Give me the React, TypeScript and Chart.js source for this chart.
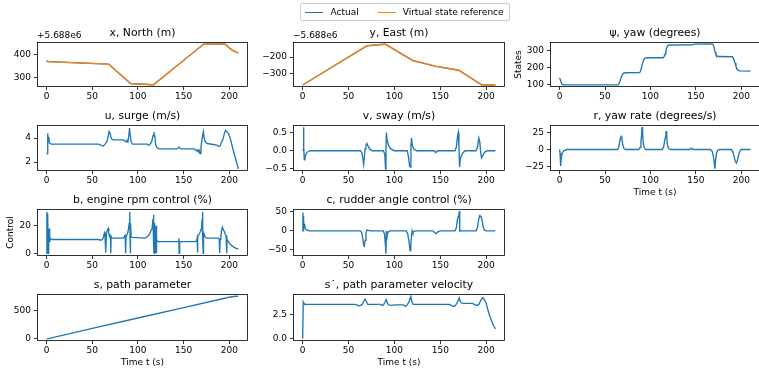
import React, { useEffect, useRef } from "react";
import { Chart, registerables } from "chart.js";

Chart.register(...registerables);

const FONT = "'DejaVu Sans', 'Liberation Sans', sans-serif";
const BLUE = "#1f77b4";
const ORANGE = "#ff7f0e";
const MINUS = "\u2212";

const SERIES_NAMES = ["Actual", "Virtual state reference"];

// shared time axis ticks
const X_TICKS = [0, 50, 100, 150, 200];

// x, North (m), relative to +5.688e6
const NORTH_OFFSET_LABEL = "+5.688e6";
const northT = [0, 2, 68, 92, 117, 172, 195, 198, 201, 204, 207, 210];
const northActual = [373, 369, 358, 273, 268, 446, 447, 437, 426, 418, 412, 407];
const northRefT = [0, 68, 92, 117, 172, 195, 198, 201, 204, 207, 210];
const northRef = [369, 358, 273, 268, 446, 447, 437, 426, 418, 412, 407];
const NORTH_TICKS = [300, 400];

// y, East (m), relative to -5.688e6
const EAST_OFFSET_LABEL = MINUS + "5.688e6";
const eastT = [0, 70, 90, 120, 145, 170, 195, 210];
const eastActual = [-370, -131, -121, -221, -256, -280, -369, -370];
const eastRef = [-370, -130, -120, -220, -255, -280, -370, -370];
const EAST_TICKS = [-300, -200];

// psi, yaw (degrees)
const yawT = [0, 1, 2, 3, 5, 64, 65, 66, 67, 68, 69, 70, 71, 73, 88, 89, 90, 91, 92, 93, 94, 96, 114, 115, 116, 117, 118, 119, 120, 122, 146, 148, 168, 169, 170, 171, 172, 173, 175, 190, 191, 192, 193, 194, 195, 196, 198, 210];
const yawDeg = [140, 128, 110, 100, 99, 99, 102, 112, 128, 145, 158, 166, 169, 170, 171, 178, 195, 220, 240, 252, 257, 259, 259, 266, 280, 302, 320, 330, 333, 334, 335, 339, 340, 335, 320, 295, 278, 270, 266, 265, 258, 245, 228, 210, 195, 186, 181, 180];
const YAW_TICKS = [100, 200, 300];

// u, surge (m/s)
const surgeT = [0, 0.5, 1, 1.5, 2, 2.5, 3, 4, 5, 57, 60, 62, 64, 66, 67.5, 68.5, 69.5, 71, 73, 84, 86, 87, 88, 89, 90, 90.8, 91.5, 92.5, 94, 110, 112, 113, 115, 116.5, 117.5, 118.5, 119.5, 121, 123, 143, 145, 147, 162, 164, 165, 166, 167, 168, 169, 170, 171, 171.7, 172.5, 174, 176, 184, 187, 189, 190, 191, 193, 195, 196, 197, 199, 201, 203, 205, 207, 209, 210];
const surge = [2.75, 2.7, 4.4, 4.3, 3.9, 4.1, 3.6, 3.55, 3.5, 3.5, 3.4, 3.35, 3.5, 3.7, 4.2, 4.55, 4.4, 3.95, 3.85, 3.85, 3.75, 3.7, 3.8, 3.7, 4.2, 4.85, 4.3, 3.7, 3.5, 3.5, 3.4, 3.45, 3.7, 4.2, 4.5, 4.1, 3.45, 3.2, 3.1, 3.1, 3.25, 3.1, 3.1, 2.95, 3.0, 2.85, 3.0, 2.7, 3.2, 3.8, 4.3, 4.55, 4.0, 3.65, 3.55, 3.45, 3.4, 3.3, 3.35, 3.6, 3.9, 4.5, 4.65, 4.55, 4.4, 4.0, 3.4, 2.8, 2.25, 1.7, 1.42];
const SURGE_TICKS = [2, 4];

// v, sway (m/s)
const swayT = [0, 0.5, 1, 1.3, 1.8, 2.5, 3.5, 5, 8, 63, 64.5, 65.5, 66.5, 67.2, 68, 69, 70, 71.5, 73, 76, 88, 89.5, 90.3, 90.8, 91.3, 92, 93.5, 96, 100, 114, 115.5, 116.5, 117.3, 118, 118.6, 119.5, 121, 124, 143, 145, 147, 166, 167.5, 168.8, 169.6, 170.3, 171, 172, 174, 177, 189, 190.5, 192, 193, 194, 195, 196.5, 198, 201, 210];
const sway = [0, 0.02, 0.65, 0.1, -0.25, -0.2, -0.1, -0.04, 0, 0, -0.05, -0.2, -0.38, -0.2, 0.05, 0.15, 0.2, 0.12, 0.05, 0, 0, -0.1, -0.5, 0.05, 0.5, 0.3, 0.15, 0.05, 0, 0, -0.2, -0.42, -0.45, 0.1, 0.35, 0.15, 0.05, 0, 0, -0.05, 0, 0, 0.1, 0.4, 0.5, 0.1, -0.45, -0.2, -0.08, 0, 0, 0.1, 0.35, 0.25, -0.05, -0.2, -0.12, -0.05, 0, 0];
const SWAY_TICKS = [-0.5, 0, 0.5];

// r, yaw rate (degrees/s)
const rateT = [0, 0.5, 1, 1.5, 2, 3, 5, 8, 64, 65, 66, 67, 67.8, 68.5, 69.5, 71, 73, 87, 88.5, 89.5, 90.2, 90.8, 91.4, 92.2, 93.5, 95, 113, 114.5, 115.8, 116.8, 117.3, 117.9, 118.8, 120, 122, 143, 145, 147, 166, 168, 169.5, 170.3, 170.9, 171.5, 172.5, 174, 176, 189, 190.5, 192, 193.5, 194.5, 195.5, 197, 198.5, 200, 210];
const rate = [0, -5, -22, -24, -12, -5, -1.5, 0, 0, 3, 10, 17, 19, 16, 7, 1, 0, 0, 3, 12, 20, 33, 22, 8, 2, 0, 0, 4, 14, 20, 27, 18, 6, 1.5, 0, 0, 2, 0, 0, -3, -12, -20, -28, -18, -6, -1, 0, 0, -3, -10, -18, -20, -17, -8, -2, 0, 0];
const RATE_TICKS = [-25, 0, 25];

// b, engine rpm control (%)
const engT = [0, 0.3, 0.6, 0.9, 1.2, 1.5, 1.8, 2.1, 2.5, 2.8, 3.2, 3.6, 4.5, 57, 59, 61, 62, 63, 63.5, 64, 64.5, 65, 65.5, 66.5, 67.5, 68, 69, 70, 70.3, 70.6, 72, 84, 85, 86, 86.5, 87, 88.5, 89.5, 90.5, 91, 91.4, 91.7, 92, 92.5, 94, 108, 110, 112, 114, 115.5, 116.5, 117, 117.4, 117.7, 118, 118.5, 119, 119.4, 119.8, 120.2, 120.6, 121.5, 144.5, 144.8, 145.1, 145.4, 146, 163, 164, 164.8, 165.2, 165.6, 167, 168.5, 169.5, 170.3, 170.7, 171.1, 171.4, 171.8, 172.5, 173.5, 175, 188, 189, 189.5, 190, 190.8, 191.5, 192.5, 193.5, 194.5, 195.5, 196.5, 197.2, 197.6, 199, 201, 203, 205, 207, 210];
const eng = [0, 30, 0, 29, 5, 28, 0, 18, 3, 18, 8, 12, 10, 10, 9.5, 10, 11, 14, 16, 12, 15, 0.5, 14, 17, 18, 15, 12, 13, 0, 12, 11, 11, 12, 13, 0, 12, 14, 17, 22, 30, 10, 0, 22, 12, 11.5, 11, 12, 13, 16, 18, 25, 28, 5, 0, 22, 18, 10, 0, 20, 0, 10, 8.5, 8.5, 11, 0, 9, 8.5, 8.5, 9, 11, 0.5, 12, 14, 16, 18, 25, 30, 12, 0, 15, 14, 12, 11, 11, 10.5, 0, 10, 12, 17, 19, 17, 16, 14, 13, 0, 10, 8.5, 6.5, 5.5, 4.5, 3.8, 3];
const ENG_TICKS = [0, 20];

// c, rudder angle control (%)
const rudT = [0, 0.3, 0.6, 0.9, 1.2, 1.5, 2, 2.5, 3, 4, 6, 8, 63, 64.5, 65.5, 66.5, 67.2, 68, 69, 70, 72, 75, 88, 89.3, 90.3, 90.8, 91.2, 91.6, 92.3, 93.5, 95, 113, 114.5, 116, 117, 117.8, 118.5, 119.2, 120, 121, 123, 142, 144, 145.5, 147, 150, 166, 167.5, 168.7, 169.5, 170.3, 170.8, 171.2, 172, 174, 189, 190.5, 191.8, 193, 194.2, 195.5, 196.8, 198, 200, 210];
const rud = [0, 48, 0, 40, 5, 18, 8, 15, 6, 3, 1, 0, 0, -5, -20, -38, -40, -25, -5, 2, 1, 0, 0, -10, -40, -60, 0, -25, -8, -2, 0, 0, -8, -30, -52, -40, -15, 0, -6, -2, 0, 0, -5, -7, -3, 0, 0, 8, 30, 38, 45, 52, 0, 1, 0, 0, 8, 30, 40, 38, 28, 10, 2, 0, 0];
const RUD_TICKS = [-50, 0, 50];

// s, path parameter
const sT = [0, 2, 50, 100, 150, 195, 200, 205, 210];
const sVal = [0, 4, 186, 370, 553, 720, 738, 751, 757];
const S_TICKS = [0, 500];

// s-dot, path parameter velocity
const sdT = [0, 0.7, 1.5, 2.5, 57, 59, 61, 63, 65, 66.5, 68, 69.5, 71, 85, 86.5, 88, 89.5, 91, 92.5, 94, 97, 100, 110, 112, 114, 116, 117.8, 119, 120.5, 125, 160, 163, 165, 167, 169, 170.7, 172, 174, 185, 188, 190, 192, 194, 196, 198, 200, 202, 204, 206, 208, 210];
const sd = [0, 3.75, 3.6, 3.5, 3.5, 3.45, 3.35, 3.4, 3.5, 3.8, 4.05, 3.8, 3.5, 3.5, 3.4, 3.45, 3.7, 4.0, 3.6, 3.45, 3.4, 3.45, 3.45, 3.3, 3.45, 3.8, 4.3, 3.8, 3.5, 3.5, 3.5, 3.35, 3.3, 3.45, 3.8, 4.15, 3.75, 3.6, 3.6, 3.45, 3.4, 3.5, 3.9, 4.2, 4.0, 3.6, 2.9, 2.3, 1.8, 1.35, 1.0];
const SD_TICKS = [0, 2.5];

// ---------- layout (pixels) ----------
const COLS = [
  { left: 37, right: 248, padL: 37, yTitlePad: 5.4 },
  { left: 293, right: 505, padL: 43, yTitlePad: 3 },
  { left: 550, right: 760, padL: 40, yTitlePad: 2.9 },
];
const ROWS = [
  { top: 42, bottom: 87 },
  { top: 125, bottom: 171 },
  { top: 209, bottom: 256 },
  { top: 294, bottom: 341 },
];
const PAD_T = 22;
const PAD_B = 30;
const PAD_R = 8;

type Series = { t: number[]; y: number[]; color: string; order: number; label: string };
type Spec = {
  title: string; col: number; row: number; series: Series[];
  yTicks: number[]; yMin: number; yMax: number; dec: number;
  offsetText?: string; yTitle?: string; xTitle?: string;
};

const actual = (t: number[], y: number[]): Series => ({ t, y, color: BLUE, order: 1, label: SERIES_NAMES[0] });
const reference = (t: number[], y: number[]): Series => ({ t, y, color: ORANGE, order: 0, label: SERIES_NAMES[1] });

const SUBPLOTS: Spec[] = [
  { title: "x, North (m)", col: 0, row: 0, series: [actual(northT, northActual), reference(northRefT, northRef)], yTicks: NORTH_TICKS, yMin: 258, yMax: 455, dec: 0, offsetText: NORTH_OFFSET_LABEL },
  { title: "y, East (m)", col: 1, row: 0, series: [actual(eastT, eastActual), reference(eastT, eastRef)], yTicks: EAST_TICKS, yMin: -382.5, yMax: -107.5, dec: 0, offsetText: EAST_OFFSET_LABEL },
  { title: "\u03c8, yaw (degrees)", col: 2, row: 0, series: [actual(yawT, yawDeg)], yTicks: YAW_TICKS, yMin: 86, yMax: 352, dec: 0, yTitle: "States" },
  { title: "u, surge (m/s)", col: 0, row: 1, series: [actual(surgeT, surge)], yTicks: SURGE_TICKS, yMin: 1.25, yMax: 5.1, dec: 0 },
  { title: "v, sway (m/s)", col: 1, row: 1, series: [actual(swayT, sway)], yTicks: SWAY_TICKS, yMin: -0.56, yMax: 0.71, dec: 1 },
  { title: "r, yaw rate (degrees/s)", col: 2, row: 1, series: [actual(rateT, rate)], yTicks: RATE_TICKS, yMin: -31.5, yMax: 36, dec: 0, xTitle: "Time t (s)" },
  { title: "b, engine rpm control (%)", col: 0, row: 2, series: [actual(engT, eng)], yTicks: ENG_TICKS, yMin: -2, yMax: 32.2, dec: 0, yTitle: "Control" },
  { title: "c, rudder angle control (%)", col: 1, row: 2, series: [actual(rudT, rud)], yTicks: RUD_TICKS, yMin: -66, yMax: 57.5, dec: 0 },
  { title: "s, path parameter", col: 0, row: 3, series: [actual(sT, sVal)], yTicks: S_TICKS, yMin: -38, yMax: 795, dec: 0, xTitle: "Time t (s)" },
  { title: "s\u02d9, path parameter velocity", col: 1, row: 3, series: [actual(sdT, sd)], yTicks: SD_TICKS, yMin: -0.22, yMax: 4.56, dec: 1, xTitle: "Time t (s)" },
];

function fmt(v: number, dec: number) {
  const s = Math.abs(v).toFixed(dec);
  return v < 0 ? MINUS + s : s;
}

const framePlugin = {
  id: "frame",
  afterDraw(chart: any) {
    const { ctx, chartArea: a } = chart;
    ctx.save();
    ctx.strokeStyle = "#000";
    ctx.lineWidth = 0.8;
    ctx.strokeRect(a.left + 0.5, a.top + 0.5, a.right - a.left - 1, a.bottom - a.top - 1);
    ctx.restore();
  },
};

const offsetTextPlugin = {
  id: "offsetText",
  afterDraw(chart: any, _args: any, opts: any) {
    if (!opts || !opts.text) return;
    const { ctx, chartArea: a } = chart;
    ctx.save();
    ctx.font = `9px ${FONT}`;
    ctx.fillStyle = "#000";
    ctx.textAlign = "left";
    ctx.textBaseline = "alphabetic";
    ctx.fillText(opts.text, a.left, a.top - 4);
    ctx.restore();
  },
};

const tickFont = { family: FONT, size: 9 };

function buildConfig(spec: Spec, padL: number, yTitlePad: number): any {
  return {
    type: "line",
    data: {
      datasets: spec.series.map((s) => ({
        label: s.label,
        data: s.t.map((x, i) => ({ x, y: s.y[i] })),
        borderColor: s.color,
        backgroundColor: s.color,
        borderWidth: 1.35,
        pointRadius: 0,
        tension: 0,
        fill: false,
        order: s.order,
      })),
    },
    options: {
      responsive: false,
      animation: false,
      events: [],
      layout: { padding: { left: 0, right: PAD_R, top: 0, bottom: 0 } },
      plugins: {
        legend: { display: false },
        tooltip: { enabled: false },
        title: {
          display: true,
          text: spec.title,
          fullSize: false,
          color: "#000",
          font: { family: FONT, size: 10.8, weight: "normal", lineHeight: 1.2 },
          padding: { top: PAD_T - 12.96 - 2.72, bottom: 2.72 },
        },
        offsetText: { text: spec.offsetText || "" },
      },
      scales: {
        x: {
          type: "linear",
          min: -10.5,
          max: 220.5,
          afterBuildTicks: (sc: any) => { sc.ticks = X_TICKS.map((v) => ({ value: v })); },
          afterFit: (sc: any) => { sc.height = PAD_B; },
          grid: { display: true, drawOnChartArea: false, drawTicks: true, tickLength: 3, color: "#000", lineWidth: 0.8 },
          border: { display: false },
          ticks: { font: tickFont, color: "#000", padding: 1, maxRotation: 0, autoSkip: false, callback: (v: number) => fmt(v, 0) },
          title: spec.xTitle
            ? { display: true, text: spec.xTitle, color: "#000", font: { family: FONT, size: 9, lineHeight: 1.2 }, padding: { top: 0, bottom: 2.6 } }
            : { display: false },
        },
        y: {
          type: "linear",
          min: spec.yMin,
          max: spec.yMax,
          afterBuildTicks: (sc: any) => { sc.ticks = spec.yTicks.map((v) => ({ value: v })); },
          afterFit: (sc: any) => { sc.width = padL; },
          grid: { display: true, drawOnChartArea: false, drawTicks: true, tickLength: 3, color: "#000", lineWidth: 0.8 },
          border: { display: false },
          ticks: { font: tickFont, color: "#000", padding: 3, autoSkip: false, callback: (v: number) => fmt(v, spec.dec) },
          title: spec.yTitle
            ? { display: true, text: spec.yTitle, color: "#000", font: { family: FONT, size: 9, lineHeight: 1.2 }, padding: { top: yTitlePad, bottom: 0 } }
            : { display: false },
        },
      },
    },
    plugins: [framePlugin, offsetTextPlugin],
  };
}

function SubplotChart({ spec }: { spec: Spec }) {
  const ref = useRef<HTMLCanvasElement | null>(null);
  const col = COLS[spec.col];
  const row = ROWS[spec.row];
  const w = col.right - col.left + col.padL + PAD_R;
  const h = row.bottom - row.top + PAD_T + PAD_B;
  useEffect(() => {
    const canvas = ref.current;
    if (!canvas) return;
    const chart = new Chart(canvas, buildConfig(spec, col.padL, col.yTitlePad));
    return () => chart.destroy();
  }, []);
  return (
    <canvas
      ref={ref}
      width={w}
      height={h}
      style={{ position: "absolute", left: col.left - col.padL, top: row.top - PAD_T, width: w, height: h }}
    />
  );
}

function Legend() {
  const lineStyle = (color: string, left: number): React.CSSProperties => ({
    position: "absolute", left, top: 7.8, width: 18, height: 0, borderTop: `1.4px solid ${color}`,
  });
  const textStyle = (left: number): React.CSSProperties => ({
    position: "absolute", left, top: 0, lineHeight: "16px", fontSize: 9, fontFamily: FONT, color: "#000", whiteSpace: "nowrap",
  });
  return (
    <div style={{ position: "absolute", left: 300, top: 3, width: 208, height: 16, border: "1px solid #cccccc", borderRadius: 2, background: "rgba(255,255,255,0.8)" }}>
      <div style={lineStyle(BLUE, 4)} />
      <div style={textStyle(29.5)}>{SERIES_NAMES[0]}</div>
      <div style={lineStyle(ORANGE, 76.5)} />
      <div style={textStyle(101.7)}>{SERIES_NAMES[1]}</div>
    </div>
  );
}

export default function App() {
  return (
    <div style={{ position: "fixed", left: 0, top: 0, width: 759, height: 372, overflow: "hidden", background: "#fff" }}>
      {SUBPLOTS.map((s, i) => (
        <SubplotChart key={i} spec={s} />
      ))}
      <Legend />
    </div>
  );
}
